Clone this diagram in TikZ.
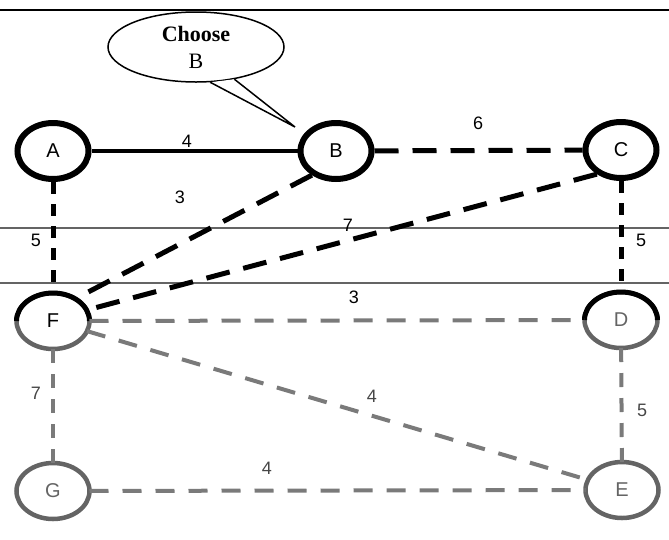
\documentclass[tikz,border=0pt]{standalone}
\usepackage{fontspec}
\setmainfont{Liberation Serif}
\newfontfamily\vertexfont{Liberation Sans}
\usetikzlibrary{shapes.geometric}

\definecolor{edgegray}{RGB}{122,122,122}
\definecolor{ringgray}{RGB}{100,100,100}
\definecolor{labelgray}{RGB}{70,70,70}

\begin{document}
\begin{tikzpicture}[x=1pt,y=-1pt]
\useasboundingbox (0,0) rectangle (669,539);

% page rules
\draw[line width=2.5] (0,10) -- (669,10);
\draw[ringgray, line width=1.2] (0,228) -- (669,228);
\draw[ringgray, line width=1.2] (0,283) -- (669,283);

% speech bubble
\coordinate (tip) at (295,127);
\node[ellipse, draw, line width=1.5, minimum width=176, minimum height=70, align=center,
      font=\fontsize{22}{27}\selectfont] (note) at (196,47) {\textbf{Choose}\\B};
\draw[line width=1.5, fill=white] (note.-68) -- (tip) -- (note.-40);

\begin{scope}[every node/.style={ellipse,draw,line width=6,minimum width=71,minimum height=56,
                                 inner sep=0,font=\vertexfont\fontsize{20}{22}\selectfont}]
    \node (A) at (53,151) {A};
    \node (B) at (336,151) {B};
    \node (C) at (621,150) {C};
\end{scope}

\begin{scope}[every node/.style={ellipse,draw=ringgray,line width=4.5,minimum width=73,minimum height=56,
                                 inner sep=0,outer sep=0,text=ringgray,
                                 font=\vertexfont\fontsize{20}{22}\selectfont}]
    \node[text=black] (F) at (53,321) {F};
    \node (D) at (621,320) {D};
    \node (G) at (53,491) {G};
    \node (E) at (622,490) {E};
\end{scope}

% upper half of F and D already reached
\draw[line width=5] (F.west) arc[start angle=180,end angle=0,x radius=36.5pt,y radius=28pt];
\draw[line width=5] (D.west) arc[start angle=180,end angle=0,x radius=36.5pt,y radius=28pt];

\begin{scope}[tried/.style={draw=black,line width=5,dash pattern=on 24pt off 14pt},
              short/.style={draw=black,line width=5,dash pattern=on 12pt off 10pt},
              open/.style={draw=edgegray,line width=4,dash pattern=on 19pt off 14pt},
              openshort/.style={draw=edgegray,line width=4,dash pattern=on 14pt off 11pt}]
    \path (A) edge[draw,line width=4] (B);
    \path (B) edge[tried] (C);
    \path (B.225) edge[tried] (F.45);
    \path (C.225) edge[tried] (F.18);
    \path (A) edge[short] (F);
    \path (C) edge[short] (D);
    \path (F) edge[open] (D);
    \path (F) edge[open] (E);
    \path (G) edge[open] (E);
    \path (F) edge[openshort] (G);
    \path (D) edge[openshort] (E);
\end{scope}

% weights
\begin{scope}[every node/.style={inner sep=0,font=\vertexfont\fontsize{18}{20}\selectfont}]
    \node (wAB) at (187,141) {4};
    \node (wBC) at (478,123) {6};
    \node (wBF) at (180,197) {3};
    \node (wCF) at (348,225) {7};
    \node (wAF) at (36,240) {5};
    \node (wCD) at (641,240) {5};
    \node (wFD) at (354,297) {3};
    \node[text=labelgray] (wFE) at (372,396) {4};
    \node[text=labelgray] (wFG) at (36,393) {7};
    \node[text=labelgray] (wDE) at (642,410) {5};
    \node[text=labelgray] (wGE) at (267,468) {4};
\end{scope}
\end{tikzpicture}
\end{document}
